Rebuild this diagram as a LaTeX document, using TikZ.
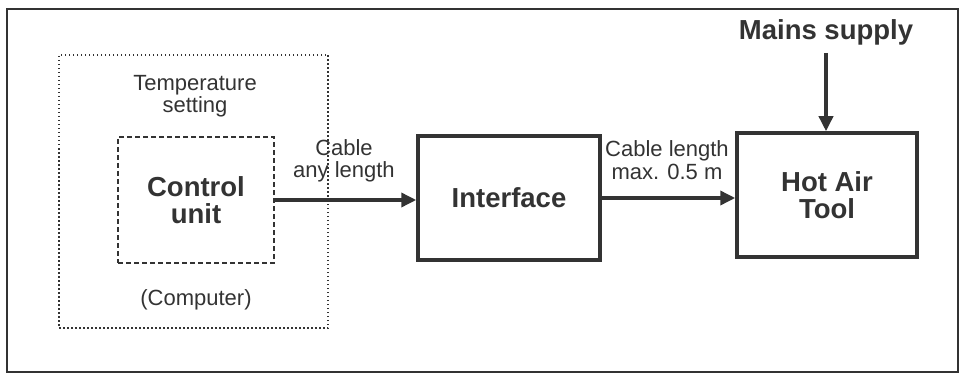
\documentclass[tikz,border=0pt]{standalone}
\usepackage{fontspec}
\setmainfont{Liberation Sans}
\usetikzlibrary{arrows.meta}
\definecolor{ink}{HTML}{333333}
\begin{document}
\begin{tikzpicture}[x=1pt,y=-1pt,
  reg/.style={font=\fontsize{22}{22.5}\selectfont, text=ink, align=center, inner sep=0pt},
  bld/.style={font=\fontsize{27.5}{27.5}\selectfont\bfseries, text=ink, align=center, inner sep=0pt},
  blk/.style={draw=ink, line width=3.5pt, minimum width=182pt, minimum height=124pt, inner sep=0pt},
  conn/.style={draw=ink, line width=3.5pt, -{Triangle[length=15pt,width=14pt]}}
]
\useasboundingbox (0,0) rectangle (960,374);
\draw[ink, line width=2pt] (7,9) rectangle (958,372);
% computer (dotted)
\node[draw=ink, line width=1.5pt, dash pattern=on 1.5pt off 2.5pt, minimum width=269pt, minimum height=273pt] (comp) at (193.5,191.5) {};
\node[draw=ink, line width=1.5pt, dash pattern=on 5pt off 3pt, minimum width=156pt, minimum height=126pt, bld] (cu) at (196,200) {Control\\unit};
\node[reg] (temp) at (195,96) {Temperature\\setting};
\node[reg] (pc) at (196,300) {(Computer)};
% blocks
\node[blk, bld] (iface) at (509,198) {Interface};
\node[blk, bld, minimum width=180pt] (hot) at (827,195) {Hot Air\\Tool};
\node[bld] (mains) at (826,32) {Mains supply};
% labels
\node[reg] (lab1) at (344,161) {Cable\\any length};
\node[reg] (lab2) at (667,160) {Cable length\\max. 0.5 m};
% connectors
\draw[conn] (cu.east) -- (cu.east -| iface.west);
\draw[conn] (iface.east) -- (iface.east -| hot.west);
\coordinate (mstart) at (826,53);
\draw[conn] (mstart) -- (mstart |- hot.north);
\end{tikzpicture}
\end{document}
